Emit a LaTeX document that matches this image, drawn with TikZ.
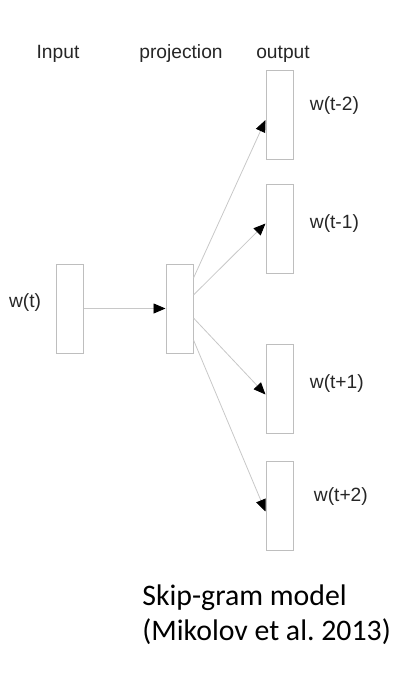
\documentclass[tikz,border=0pt]{standalone}
\usepackage{fontspec}
\setmainfont{Liberation Sans}
\newfontfamily\capfont{Carlito}
\usepackage{tikz}
\usetikzlibrary{arrows.meta, positioning}
\definecolor{boxgray}{RGB}{190,190,190}
\definecolor{linegray}{RGB}{200,200,200}

\begin{document}
\begin{tikzpicture}[
        node distance=10pt,
        layer/.style={rectangle, draw=boxgray, line width=0.5pt, minimum width=13.5pt, minimum height=44.5pt, inner sep=0pt},
        lbl/.style={font=\fontsize{9.6}{11}\selectfont, text=black!85, inner sep=0pt},
        arrow/.style={-{Triangle[length=6pt, width=5pt, color=black]}, draw=linegray, line width=0.4pt}
    ]
    \useasboundingbox (0,0) rectangle (201pt,-342pt);

    % layers
    \node[layer] (in) at (34.75pt,-154.25pt) {};
    \node[layer, right=41pt of in] (proj) {};
    \node[layer] (o1) at (139.75pt,-57.5pt) {};
    \node[layer, below=12pt of o1] (o2) {};
    \node[layer, below=35pt of o2] (o3) {};
    \node[layer, below=13.5pt of o3] (o4) {};

    % connections
    \draw[arrow] (in) -- (proj);
    \draw[arrow] ([yshift=15.25pt]proj.east) -- ([yshift=-2.5pt]o1.west);
    \draw[arrow] ([yshift=6.75pt]proj.east) -- ([yshift=2.75pt]o2.west);
    \draw[arrow] ([yshift=-4.75pt]proj.east) -- ([yshift=-2.75pt]o3.west);
    \draw[arrow] ([yshift=-15.75pt]proj.east) -- ([yshift=-2.75pt]o4.west);

    % titles
    \node[lbl] (tin) at (29pt,-27pt) {Input};
    \node[lbl] (tproj) at (90.5pt,-27pt) {projection};
    \node[lbl] (tout) at (141.5pt,-27pt) {output};

    % word labels
    \node[lbl, left=7pt of in, yshift=2.75pt] (win) {w(t)};
    \node[lbl, right=8pt of o1, yshift=4.5pt] (w1) {w(t-2)};
    \node[lbl, right=8pt of o2, yshift=2.75pt] (w2) {w(t-1)};
    \node[lbl, right=8pt of o3, yshift=2.75pt] (w3) {w(t+1)};
    \node[lbl, right=10pt of o4, yshift=4.75pt] (w4) {w(t+2)};

    % caption
    \node[anchor=west, align=left, inner sep=0pt, font=\capfont\fontsize{14.9}{17.5}\selectfont] (cap) at (71pt,-307.25pt) {Skip-gram model\\(Mikolov et al.\ 2013)};

\end{tikzpicture}
\end{document}
